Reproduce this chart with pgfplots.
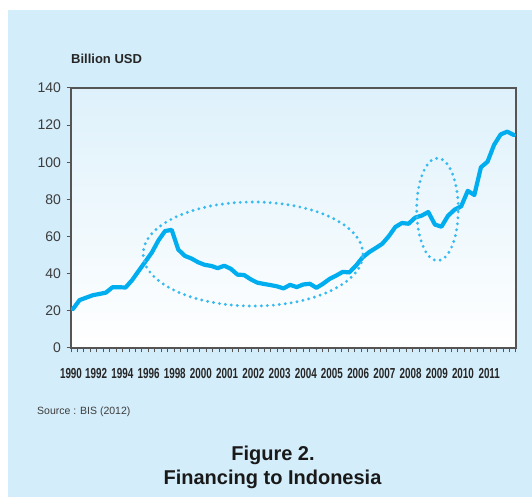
\documentclass[border=0pt]{standalone}
\usepackage{fontspec}
\setmainfont{Liberation Sans}
\usepackage{graphicx}
\usepackage{pgfplots}
\usepackage{pgfplotstable}
\pgfplotsset{compat=1.18}
\definecolor{panel}{RGB}{212,237,250}
\definecolor{linec}{RGB}{0,174,239}
\definecolor{dotc}{RGB}{55,186,240}
\definecolor{axisgray}{RGB}{85,85,85}
\definecolor{txtgray}{RGB}{60,60,60}
\definecolor{plottop}{RGB}{222,241,251}
\newcommand\cx[1]{\scalebox{0.68}[1]{#1}}

\pgfplotstableread{
i v
0 21.0
1 25.8
2 27.1
3 28.4
4 29.1
5 29.8
6 32.7
7 32.7
8 32.6
9 36.6
10 41.6
11 46.5
12 51.5
13 58.0
14 63.0
15 63.6
16 53.0
17 49.6
18 48.2
19 46.2
20 44.8
21 44.2
22 43.0
23 44.3
24 42.6
25 39.5
26 39.3
27 37.0
28 35.2
29 34.5
30 33.9
31 33.2
32 32.1
33 34.0
34 32.8
35 34.2
36 34.6
37 32.4
38 34.6
39 37.2
40 39.0
41 41.0
42 40.7
43 44.3
44 48.7
45 51.6
46 53.8
47 56.1
48 60.2
49 65.2
50 67.3
51 66.9
52 70.2
53 71.3
54 73.2
55 66.5
56 65.3
57 71.2
58 74.5
59 76.3
60 84.6
61 82.4
62 97.3
63 100.3
64 109.4
65 115.0
66 116.5
67 114.7
}\datatable

\begin{document}
\begin{tikzpicture}
\useasboundingbox (0,0) rectangle (532bp,497bp);
\fill[white] (0,0) rectangle (532bp,497bp);
\fill[panel] (8bp,0) rectangle (532bp,487bp);
\begin{axis}[
  at={(71bp,149bp)}, anchor=south west,
  scale only axis, width=445bp, height=260bp,
  xmin=-0.3, xmax=67.33, ymin=0, ymax=140,
  ytick={0,20,...,140},
  xtick={-0.3,0.68,...,67.4},
  xticklabels={},
  extra x ticks={-0.3,3.52,7.51,11.49,15.47,19.45,23.44,27.42,31.40,35.38,39.36,43.35,47.33,51.31,55.29,59.27,63.26},
  extra x tick labels={\cx{1990},\cx{1992},\cx{1994},\cx{1996},\cx{1998},\cx{2000},\cx{2001},\cx{2002},\cx{2003},\cx{2004},\cx{2005},\cx{2006},\cx{2007},\cx{2008},\cx{2009},\cx{2010},\cx{2011}},
  extra x tick style={major tick length=0pt},
  tick align=outside, major tick length=4.5bp,
  xtick pos=bottom, ytick pos=left,
  axis line style={axisgray, line width=1.2bp},
  every tick/.style={axisgray, line width=1bp},
  yticklabel style={font=\fontsize{14bp}{16bp}\selectfont, text=txtgray, xshift=-2bp},
  xticklabel style={font=\fontsize{14.5bp}{16bp}\selectfont\bfseries, text=black!85, yshift=-17bp},
  /pgf/number format/assume math mode=true,
  axis background/.style={top color=plottop, bottom color=white},
]
\addplot[linec, line width=4.2bp, line join=round, line cap=round] table[x=i, y=v] {\datatable};
\draw[dotc, line width=3.2bp, line cap=round, dash pattern=on 0pt off 6bp] (axis cs:27.36,50.6) ellipse [x radius=16.7, y radius=28];
\draw[dotc, line width=3.2bp, line cap=round, dash pattern=on 0pt off 6bp] (axis cs:55.4,74.6) ellipse [x radius=3.16, y radius=27.6];
\end{axis}
\node[anchor=base west, font=\fontsize{13bp}{15bp}\selectfont\bfseries, text=black!85, inner sep=0pt] at (71bp,433bp) {Billion USD};
\node[anchor=base west, font=\fontsize{10.5bp}{12bp}\selectfont, text=txtgray, inner sep=0pt] at (37bp,82bp) {Source : BIS (2012)};
\node[anchor=base, font=\fontsize{20bp}{24bp}\selectfont\bfseries, text=black!90, inner sep=0pt] at (273bp,36.3bp) {Figure 2.};
\node[anchor=base, font=\fontsize{20bp}{24bp}\selectfont\bfseries, text=black!90, inner sep=0pt] at (272.5bp,13bp) {Financing to Indonesia};
\end{tikzpicture}
\end{document}
